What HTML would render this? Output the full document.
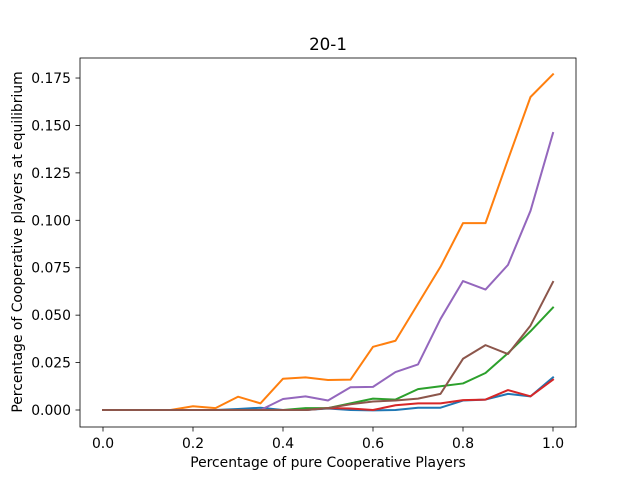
<!DOCTYPE html>
<html><head><meta charset="utf-8"><style>body{margin:0;background:#fff}svg{display:block;font-family:"DejaVu Sans","Liberation Sans",sans-serif}</style></head>
<body>
<svg id="chart" width="640" height="480" xmlns="http://www.w3.org/2000/svg">
<rect width="640" height="480" fill="#fff"/>
<text x="328" y="50" font-size="16.7" text-anchor="middle">20-1</text>
<g id="plot"></g>
<rect x="80" y="58" width="496" height="369" fill="none" stroke="#000" stroke-width="0.8"/>
<text x="328" y="467" font-size="13.9" text-anchor="middle">Percentage of pure Cooperative Players</text>
<text transform="translate(22,242) rotate(-90)" font-size="13.9" text-anchor="middle">Percentage of Cooperative players at equilibrium</text>
</svg>
<script>
const xValues=[0,0.05,0.1,0.15,0.2,0.25,0.3,0.35,0.4,0.45,0.5,0.55,0.6,0.65,0.7,0.75,0.8,0.85,0.9,0.95,1.0];
const seriesBlue=[0,0,0,0,0,0,0.0005,0.0012,0,0,0.0008,0,-0.0002,0,0.0012,0.0012,0.005,0.0055,0.0085,0.0072,0.0172];
const seriesOrange=[0,0,0,0,0.002,0.001,0.007,0.0035,0.0165,0.0172,0.0158,0.016,0.0333,0.0365,0.056,0.0755,0.0985,0.0985,0.132,0.165,0.177];
const seriesGreen=[0,0,0,0,0,0,0,0,0,0.001,0.001,0.0035,0.006,0.0055,0.011,0.0125,0.014,0.0195,0.03,0.0415,0.054];
const seriesRed=[0,0,0,0,0,0,0,0,0,0,0.001,0.0008,0,0.0025,0.0035,0.0035,0.0052,0.0055,0.0105,0.0072,0.016];
const seriesPurple=[0,0,0,0,0,0,0,0,0.0058,0.0072,0.005,0.012,0.0122,0.02,0.024,0.048,0.068,0.0635,0.0765,0.105,0.146];
const seriesBrown=[0,0,0,0,0,0,0,0,0,0,0.001,0.003,0.0045,0.005,0.006,0.0085,0.027,0.0342,0.0295,0.0445,0.0675];
const xTicks=[0,0.2,0.4,0.6,0.8,1.0];
const xTickLabels=["0.0","0.2","0.4","0.6","0.8","1.0"];
const yTicks=[0,0.025,0.05,0.075,0.1,0.125,0.15,0.175];
const yTickLabels=["0.000","0.025","0.050","0.075","0.100","0.125","0.150","0.175"];
const NS="http://www.w3.org/2000/svg";
const sx=v=>103+v*450;
const sy=v=>410-v*1897;
const g=document.getElementById('plot');
function mk(t,a){const e=document.createElementNS(NS,t);for(const k in a)e.setAttribute(k,a[k]);return e;}
xTicks.forEach((t,i)=>{
 const l=mk('line',{x1:sx(t),x2:sx(t),y1:427,y2:431.5,stroke:'#000','stroke-width':0.8});
 
 
 g.appendChild(l);
 const tx=mk('text',{x:sx(t),y:448,'font-size':13.9,'text-anchor':'middle'});
 
 
 tx.textContent=xTickLabels[i];g.appendChild(tx);
});
yTicks.forEach((t,i)=>{
 const l=mk('line',{x1:75.5,x2:80,y1:sy(t),y2:sy(t),stroke:'#000','stroke-width':0.8});
 
 
 g.appendChild(l);
 const tx=mk('text',{x:71,y:sy(t)+5,'font-size':13.9,'text-anchor':'end'});
 
 
 tx.textContent=yTickLabels[i];g.appendChild(tx);
});
const series=[[seriesBlue,'#1f77b4','series-blue'],[seriesOrange,'#ff7f0e','series-orange'],[seriesGreen,'#2ca02c','series-green'],[seriesRed,'#d62728','series-red'],[seriesPurple,'#9467bd','series-purple'],[seriesBrown,'#8c564b','series-brown']];
series.forEach(([d,c,n])=>{
 const p=mk('polyline',{points:d.map((v,i)=>sx(xValues[i])+','+sy(v)).join(' '),fill:'none',stroke:c,'stroke-width':2,'stroke-linejoin':'round','stroke-linecap':'square'});
 
 
 g.appendChild(p);
});
</script>
</body></html>
